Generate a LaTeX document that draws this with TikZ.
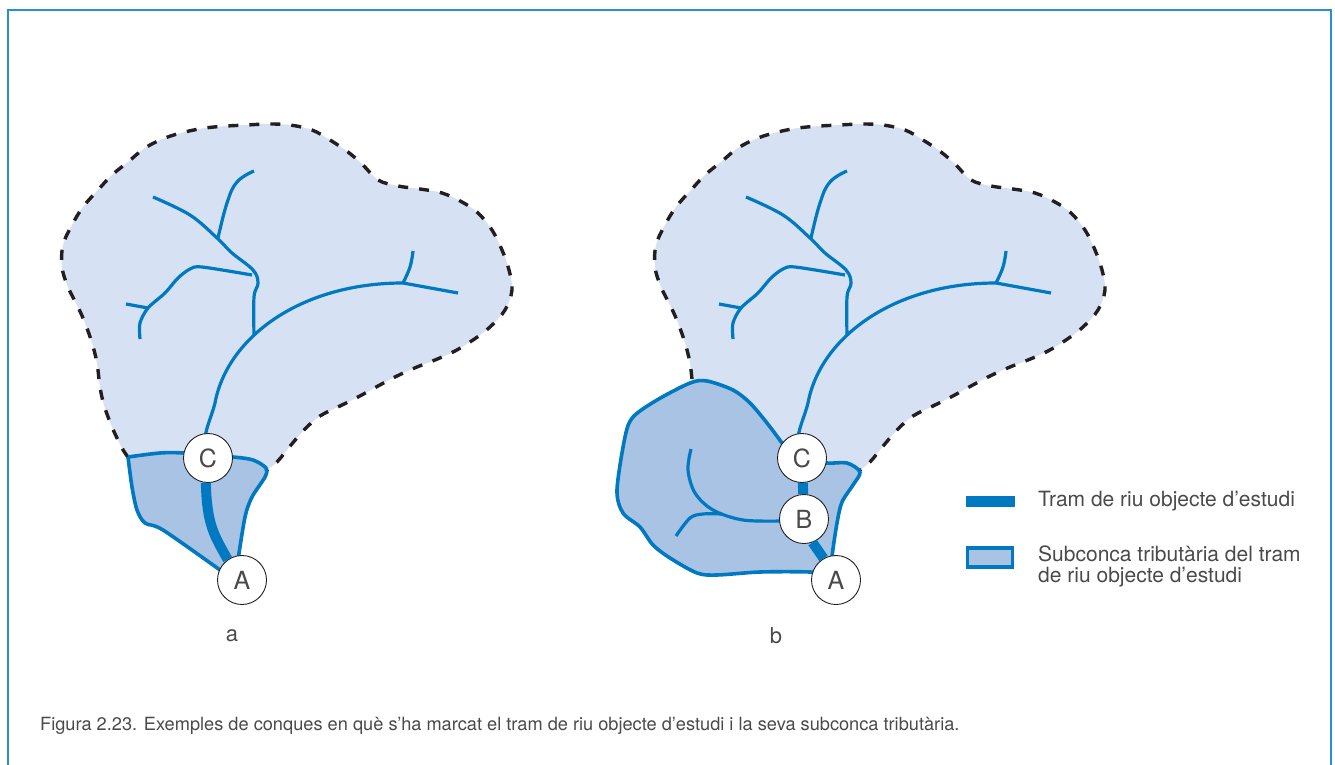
\documentclass[tikz,border=0pt]{standalone}
\usepackage{fontspec}
\setmainfont{TeX Gyre Heros}
\definecolor{riu}{HTML}{0079C1}
\definecolor{marc}{HTML}{2A8FCB}
\definecolor{concaclar}{HTML}{D6E2F3}
\definecolor{concafosc}{HTML}{A9C3E4}
\definecolor{limit}{HTML}{231F20}
\definecolor{lletra}{HTML}{4A4A4A}
\tikzset{
  riuprim/.style={draw=riu,line width=3.2pt,line join=round},
  tram/.style={draw=riu,line width=10pt},
  subconca/.style={draw=riu,fill=concafosc,line width=3.6pt,line join=round},
  limitconca/.style={draw=limit,line width=3.4pt,dash pattern=on 10pt off 11pt},
  punt/.style={circle,draw=limit,fill=white,line width=0.9pt,minimum size=49pt,inner sep=0pt,
    text=lletra,font=\fontsize{25}{25}\selectfont},
  rotul/.style={text=lletra,font=\fontsize{21}{21}\selectfont,anchor=base west,inner sep=0pt},
}
% contorn i xarxa comuns de les dues conques
\newcommand{\contorn}{(128,457) (122,448) (112,427) (104,405) (100,387) (97,363) (92,343) (85,323) (78,307) (68,287)
  (62,267) (63,245) (72,225) (83,207) (98,190) (112,175) (128,162) (145,148) (165,138)
  (185,132) (205,128) (227,126) (247,125) (268,124) (290,125) (312,130) (330,140) (348,152)
  (363,165) (378,180) (398,186) (420,189) (442,193) (462,202) (478,213) (492,230) (502,250)
  (509,270) (512,290) (505,310) (490,327) (473,340) (455,351) (435,360) (417,367) (397,376)
  (378,386) (358,397) (340,406) (320,416) (305,429) (291,445) (277,462) (267,470)}
\newcommand{\conca}{%
  \fill[concaclar] plot[smooth,tension=0.6] coordinates {\contorn} -- cycle;
  \draw[limitconca] plot[smooth,tension=0.6] coordinates {\contorn};
  % riu principal
  \draw[riuprim] (205,437) .. controls (207,425) and (212,415) .. (215,403)
    .. controls (227,338) and (300,283) .. (403,283) -- (458,293);
  \draw[riuprim] plot[smooth,tension=0.7] coordinates {(403,283) (410,267) (413,251)};
  % afluent
  \draw[riuprim] plot[smooth,tension=0.6] coordinates {(254,336) (254,297) (258,283) (253,270) (232,253)
    (217,238) (190,215) (153,197)};
  \draw[riuprim] plot[smooth,tension=0.7] coordinates {(218,238) (227,203) (237,182) (254,171)};
  \draw[riuprim] plot[smooth,tension=0.5] coordinates {(252,275) (202,267) (190,269) (178,278) (165,293)
    (148,308) (140,323) (140,339)};
  \draw[riuprim] (126,304) -- (148,308);
}

\begin{document}
\begin{tikzpicture}[x=1pt,y=-1pt]
\useasboundingbox (0,0) rectangle (1335,765);

% Marc
\draw[marc,line width=1.6pt] (8,765) -- (8,10) -- (1331,10) -- (1331,765);

% Conca a
\conca
\draw[subconca] plot[smooth,tension=0.5] coordinates {(128,457) (160,453) (183,453) (233,457) (253,460) (266,468)
  (265,477) (252,497) (245,517) (238,560)} -- (220,570)
  -- plot[smooth,tension=0.5] coordinates {(220,570) (163,530) (145,523) (137,510) (132,487) (128,457)};
\node[punt] (aC) at (208,458) {C};
\node[punt] (aA) at (242,580) {A};
\draw[tram] (aC.265) .. controls (207,525) and (214,535) .. (aA.125);
\node[text=lletra,font=\fontsize{22}{22}\selectfont] (a) at (232,636) {a};

% Conca b
\begin{scope}[xshift=593pt]
\conca
\end{scope}
\draw[subconca] plot[smooth,tension=0.5] coordinates {(782,443) (767,423) (750,403) (733,390) (707,381) (690,383)
  (657,400) (633,417) (625,437) (617,490) (623,513) (640,527) (653,545) (670,558) (697,573)
  (717,575) (760,572) (810,572) (832,575) (832,557) (837,523) (842,502) (853,485) (860,472)
  (847,463) (827,463) (802,458) (782,443)};
\draw[riuprim] plot[smooth,tension=0.55] coordinates {(691,449) (688,470) (695,493) (713,510) (743,520) (782,521)};
\draw[riuprim] plot[smooth,tension=0.55] coordinates {(676,536) (690,518) (703,514) (722,514)};
\node[punt] (bC) at (802,458) {C};
\node[punt] (bB) at (804,519) {B};
\node[punt] (bA) at (836,580) {A};
\draw[tram] (bC) -- (bB);
\draw[tram] (bB.-70) -- (bA.120);
\node[text=lletra,font=\fontsize{22}{22}\selectfont] (b) at (776,636) {b};

% Llegenda
\node[draw=none,fill=riu,minimum width=49pt,minimum height=11pt,inner sep=0pt] (llegtram) at (990,501.5) {};
\node[draw=riu,fill=concafosc,line width=3.6pt,minimum width=45pt,minimum height=19pt,inner sep=0pt] (llegsub) at (990,557.5) {};
\node[rotul] (txttram) at (1038,506) {Tram de riu objecte d’estudi};
\node[rotul] (txtsub) at (1038,561) {Subconca tributària del tram};
\node[rotul] (txtsub2) at (1038,582) {de riu objecte d’estudi};

% Peu
\node[text=lletra,font=\fontsize{18.2}{18}\selectfont,anchor=base west,inner sep=0pt] (peu) at (40,730)
{Figura 2.23. Exemples de conques en què s’ha marcat el tram de riu objecte d’estudi i la seva subconca tributària.};

\end{tikzpicture}
\end{document}
